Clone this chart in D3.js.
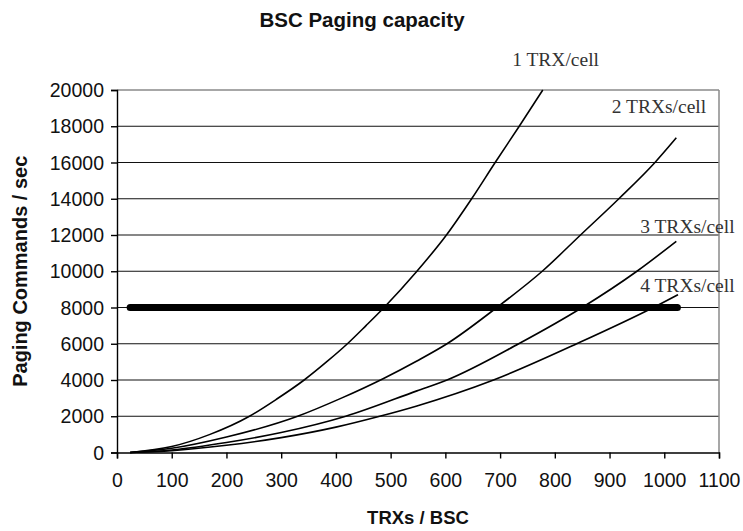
<!DOCTYPE html>
<html><head><meta charset="utf-8">
<script src="https://cdn.jsdelivr.net/npm/d3@7"></script>
<style>body{margin:0;background:#fff}svg{display:block}</style>
</head><body><svg id="c" width="743" height="531"></svg>
<script>
const title = "BSC Paging capacity";
const xTitle = "TRXs / BSC";
const yTitle = "Paging Commands / sec";
const xTicks = [0,100,200,300,400,500,600,700,800,900,1000,1100];
const yTicks = [0,2000,4000,6000,8000,10000,12000,14000,16000,18000,20000];

const seriesNames = ["1 TRX/cell","2 TRXs/cell","3 TRXs/cell","4 TRXs/cell"];
const trx1X = [24,100,170,242,292,342,385,421,455,488,548,602,648,691,735,778];
const trx1Y = [0,330,1000,2000,2950,4000,5050,6000,7000,8000,10000,12000,14000,16000,18000,20000];
const trx2X = [24,100,200,330,410,488,548,603,694,777,847,917,983,1022];
const trx2Y = [0,230,850,2000,3000,4100,5050,6000,8000,10000,12000,14000,16000,17360];
const trx3X = [24,100,200,300,418,548,603,734,850,950,1022];
const trx3Y = [0,140,550,1100,2000,3400,4000,6000,8000,10000,11650];
const trx4X = [24,100,200,300,400,480,548,688,840,980,1025];
const trx4Y = [0,100,400,820,1400,2000,2570,4000,6000,8000,8710];
// label anchor positions (data units)
const labelX = [722,904,956,956];
const labelY = [21340,18740,12110,8870];

const threshold = 8000;
const thresholdX = [24,1024];

const svg = d3.select("#c");
const x = d3.scaleLinear().domain([0,1100]).range([117,719]);
const y = d3.scaleLinear().domain([0,20000]).range([452.5,90]);

const sans = "'Liberation Sans', Arial, sans-serif";
const serif = "'Liberation Serif', 'Times New Roman', serif";

// gridlines
svg.append("g").selectAll("line").data(yTicks.filter(d=>d>0)).join("line")
  .attr("x1",x(0)).attr("x2",x(1100))
  .attr("y1",d=>y(d)).attr("y2",d=>y(d))
  .attr("stroke",d=>d===20000?"#8a8a8a":"#111").attr("stroke-width",d=>d===20000?1.5:1.1);
// right border
svg.append("line").attr("x1",x(1100)).attr("x2",x(1100)).attr("y1",y(20000)).attr("y2",y(0))
  .attr("stroke","#8a8a8a").attr("stroke-width",1.5);

// axes
const yAxis = d3.axisLeft(y).tickValues(yTicks).tickSize(6).tickFormat(d3.format("d"));
const xAxis = d3.axisBottom(x).tickValues(xTicks).tickSize(6).tickFormat(d3.format("d"));
const gy = svg.append("g").attr("transform",`translate(${x(0)},0)`).call(yAxis);
const gx = svg.append("g").attr("transform",`translate(0,${y(0)})`).call(xAxis);
[gx,gy].forEach(g=>{
  g.select(".domain").attr("stroke","#000").attr("stroke-width",1.4);
  g.selectAll(".tick line").attr("stroke","#000").attr("stroke-width",1.4);
  g.selectAll(".tick text").attr("font-family",sans).attr("font-size",19.5).attr("fill","#111");
});
gy.selectAll(".tick text").attr("x",-13).attr("dy","0.34em");
gx.selectAll(".tick text").attr("y",21).attr("dy","0.71em");

// threshold line
svg.append("line").attr("x1",x(thresholdX[0])).attr("x2",x(thresholdX[1]))
  .attr("y1",y(threshold)).attr("y2",y(threshold))
  .attr("stroke","#000").attr("stroke-width",7).attr("stroke-linecap","round");

// curves
const line = d3.line().x(d=>x(d[0])).y(d=>y(d[1])).curve(d3.curveMonotoneX);
const data = [[trx1X,trx1Y],[trx2X,trx2Y],[trx3X,trx3Y],[trx4X,trx4Y]]
  .map(([xs,ys])=>xs.map((v,i)=>[v,ys[i]]));
svg.append("g").selectAll("path").data(data).join("path")
  .attr("d",line).attr("fill","none").attr("stroke","#000").attr("stroke-width",1.6);

// series labels
svg.append("g").selectAll("text").data(seriesNames).join("text")
  .attr("x",(d,i)=>x(labelX[i])).attr("y",(d,i)=>y(labelY[i]))
  .attr("font-family",serif).attr("font-size",19.5).attr("fill","#333").text(d=>d);

// titles
svg.append("text").attr("x",362).attr("y",27).attr("text-anchor","middle")
  .attr("font-family",sans).attr("font-weight","bold").attr("font-size",20.5).attr("fill","#111").text(title);
svg.append("text").attr("x",418).attr("y",524).attr("text-anchor","middle")
  .attr("font-family",sans).attr("font-weight","bold").attr("font-size",18.5).attr("fill","#111").text(xTitle);
svg.append("text").attr("transform",`translate(27,${(y(0)+y(20000))/2}) rotate(-90)`).attr("text-anchor","middle")
  .attr("font-family",sans).attr("font-weight","bold").attr("font-size",20).attr("fill","#111").text(yTitle);
</script>
</body></html>
